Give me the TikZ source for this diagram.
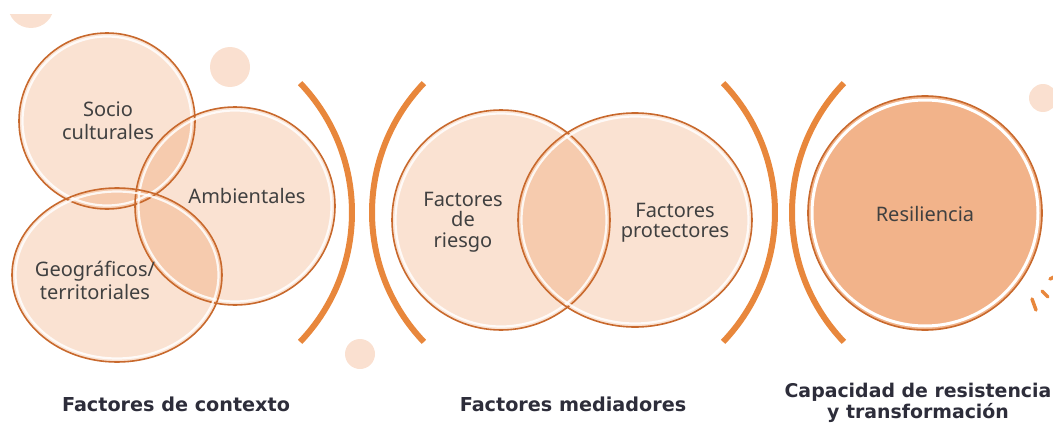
\documentclass[tikz,border=0pt]{standalone}
\usepackage{fontspec}
\setmainfont{Noto Sans}
\newfontfamily\titlefont{DejaVu Sans}
\definecolor{rimorange}{HTML}{C8692D}
\definecolor{bloborange}{HTML}{E66E1E}
\definecolor{parenorange}{HTML}{E8873C}
\definecolor{dotpeach}{HTML}{FAE0D0}
\definecolor{lblgray}{HTML}{404040}
\definecolor{titlenavy}{HTML}{2D2D3A}

\begin{document}
\begin{tikzpicture}[x=1pt, y=-1pt,
        blob/.style={fill=bloborange, fill opacity=0.2},
        gap/.style={draw=white, line width=2.2pt, draw opacity=0.85},
        rim/.style={draw=rimorange, line width=1.6pt},
        paren/.style={draw=parenorange, line width=6pt},
        spark/.style={draw=parenorange, line width=3.5pt, line cap=round},
        dot/.style={fill=dotpeach},
        lbl/.style={text=lblgray, font=\fontsize{20}{23}\selectfont, align=center},
        title/.style={text=titlenavy, font=\titlefont\bfseries\fontsize{19.2}{20.5}\selectfont, align=center}]
        \useasboundingbox (0,0) rectangle (1053,423);
        \clip (0,0) rectangle (1053,423);

        % dots
        \begin{scope}
            \clip (0,14) rectangle (100,60);
            \fill[dot] (31,5) circle (23);
        \end{scope}
        \fill[dot] (230,67) circle (20);
        \fill[dot] (360,354) circle (15);
        \fill[dot] (1043,98) circle (14);

        % venn circles
        \foreach \cx/\cy/\rx/\ry in {107/121/88/88, 235/206/100/99, 117/275/105/87, 501/220/109/110, 635/220/117/107} {
            \fill[blob] (\cx,\cy) ellipse[x radius=\rx, y radius=\ry];
        }
        \foreach \cx/\cy/\rx/\ry in {107/121/88/88, 235/206/100/99, 117/275/105/87, 501/220/109/110, 635/220/117/107} {
            \draw[gap] (\cx,\cy) ellipse[x radius=\rx-3.5, y radius=\ry-3.5];
            \draw[rim] (\cx,\cy) ellipse[x radius=\rx, y radius=\ry];
        }

        % resiliencia
        \fill[blob, fill opacity=0.52] (925,213) circle (117);
        \draw[gap, line width=3pt, draw opacity=1] (925,213) circle (113);
        \draw[rim] (925,213) circle (117);

        % brackets
        \draw[paren] (164.7,212.5) ++(-43.7:187.3) arc[start angle=-43.7, end angle=43.7, radius=187.3];
        \draw[paren] (559.3,212.5) ++(136.3:187.3) arc[start angle=136.3, end angle=223.7, radius=187.3];
        \draw[paren] (587.7,212.5) ++(-43.7:187.3) arc[start angle=-43.7, end angle=43.7, radius=187.3];
        \draw[paren] (979.3,212.5) ++(136.3:187.3) arc[start angle=136.3, end angle=223.7, radius=187.3];

        % sparks
        \draw[spark] (1032,299) -- (1036,310);
        \draw[spark] (1042,291) -- (1048,297);
        \draw[spark] (1050,279) -- (1056,276);

        % labels
        \node[lbl] (socio) at (108,121) {Socio\\culturales};
        \node[lbl] (ambient) at (247,196) {Ambientales};
        \node[lbl] (geogr) at (95,280) {Geográficos/\\territoriales};
        \node[lbl, font=\fontsize{20}{20.5}\selectfont] (riesgo) at (463,222) {Factores\\de\\riesgo};
        \node[lbl, font=\fontsize{20}{20.5}\selectfont] (protect) at (675,223) {Factores\\protectores};
        \node[lbl] (resil) at (925,214) {Resiliencia};

        % titles
        \node[title] (contexto) at (176,404) {Factores de contexto};
        \node[title] (mediad) at (573,404) {Factores mediadores};
        \node[title, font=\titlefont\bfseries\fontsize{18.9}{20.5}\selectfont] (capacidad) at (918,403) {Capacidad de resistencia\\y transformación};
    \end{tikzpicture}
\end{document}
